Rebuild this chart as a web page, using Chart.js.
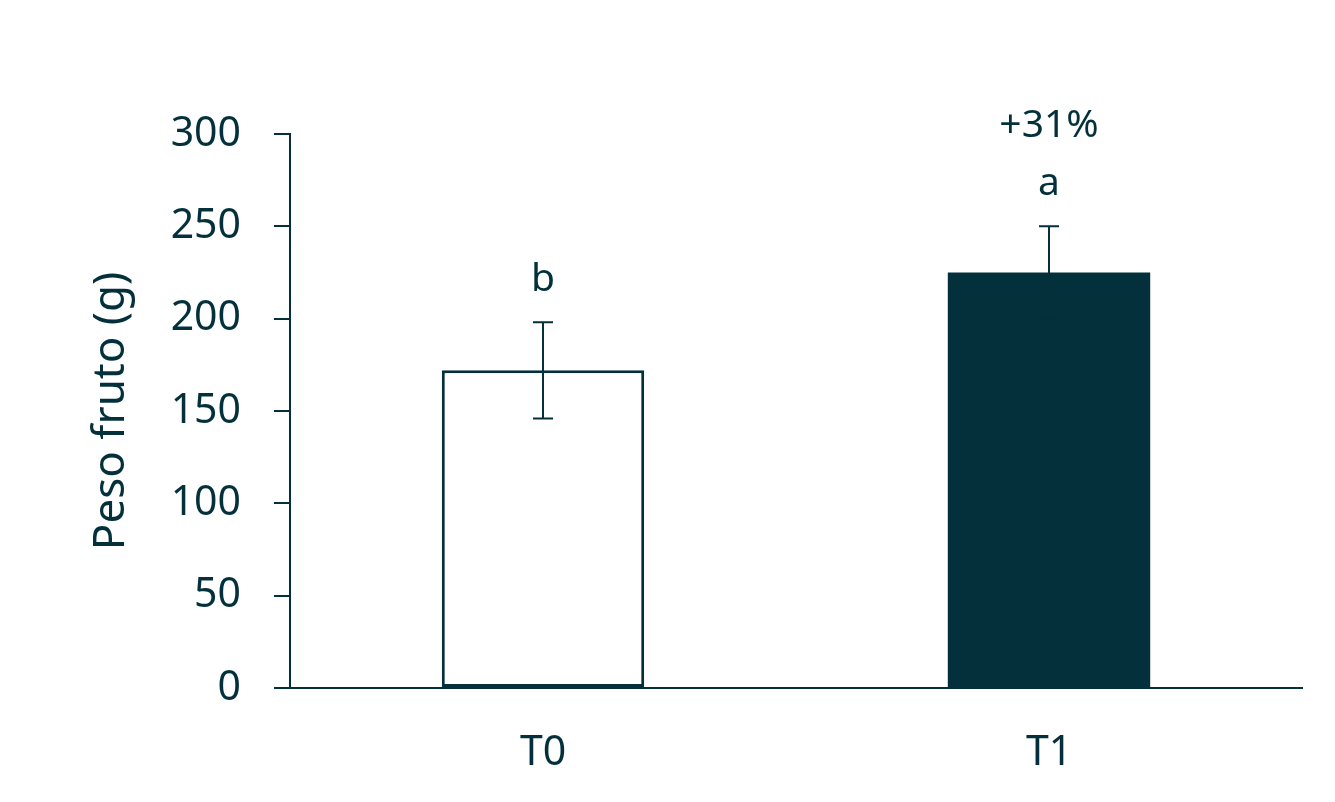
<!DOCTYPE html>
<html>
<head>
<meta charset="utf-8">
<script src="https://cdn.jsdelivr.net/npm/chart.js@4/dist/chart.umd.min.js"></script>
<style>
  html, body { margin: 0; padding: 0; background: #fff; }
  #wrap { width: 1335px; height: 802px; }
</style>
</head>
<body>
<div id="wrap"><canvas id="weightChart"></canvas></div>
<script>
const categories = ['T0', 'T1'];
const meanWeight = [172, 225];
const sdWeight = [26, 25];
const letters = ['b', 'a'];
const increase = ['', '+31%'];

const dark = '#03303a';
const fontFamily = '"Noto Sans", "Open Sans", sans-serif';

// error bars and significance letters on top of the bars
const barNotes = {
  id: 'barNotes',
  afterDatasetsDraw(chart) {
    const ctx = chart.ctx;
    const y = chart.scales.y;
    const meta = chart.getDatasetMeta(0);
    ctx.save();
    ctx.strokeStyle = dark;
    ctx.fillStyle = dark;
    ctx.lineWidth = 2;
    meta.data.forEach((bar, i) => {
      const hi = y.getPixelForValue(meanWeight[i] + sdWeight[i]);
      const lo = y.getPixelForValue(meanWeight[i] - sdWeight[i]);
      ctx.beginPath();
      ctx.moveTo(bar.x, hi);
      ctx.lineTo(bar.x, lo);
      ctx.moveTo(bar.x - 10, hi);
      ctx.lineTo(bar.x + 10, hi);
      ctx.moveTo(bar.x - 10, lo);
      ctx.lineTo(bar.x + 10, lo);
      ctx.stroke();

      ctx.font = '39px ' + fontFamily;
      ctx.textAlign = 'center';
      ctx.textBaseline = 'middle';
      ctx.fillText(letters[i], bar.x, hi - 42);
      if (increase[i]) ctx.fillText(increase[i], bar.x, hi - 100);
    });
    ctx.restore();
  }
};

new Chart(document.getElementById('weightChart'), {
  type: 'bar',
  data: {
    labels: categories,
    datasets: [{
      data: meanWeight,
      backgroundColor: ['#ffffff', dark],
      borderColor: dark,
      borderWidth: [3, 0],
      borderSkipped: false,
      barPercentage: 0.4,
      categoryPercentage: 1
    }]
  },
  options: {
    responsive: true,
    maintainAspectRatio: false,
    animation: false,
    layout: { padding: { top: 134, right: 33, left: 0, bottom: 0 } },
    plugins: {
      legend: { display: false },
      tooltip: { enabled: false }
    },
    scales: {
      x: {
        grid: { display: false, drawTicks: false },
        border: { display: true, color: dark, width: 2 },
        ticks: { color: dark, font: { family: fontFamily, size: 41 }, padding: 41 },
        afterFit(scale) { scale.height = 114; }
      },
      y: {
        min: 0,
        max: 300,
        grid: { display: true, drawOnChartArea: false, drawTicks: true, tickLength: 16, color: dark, lineWidth: 2 },
        border: { display: true, color: dark, width: 2 },
        ticks: { stepSize: 50, color: dark, font: { family: fontFamily, size: 41 }, padding: 33 },
        title: {
          display: true,
          text: 'Peso fruto (g)',
          color: dark,
          font: { family: fontFamily, size: 44 },
          padding: { top: 85, bottom: 0 }
        },
        afterFit(scale) { scale.width = 290; }
      }
    }
  },
  plugins: [barNotes]
});
</script>
</body>
</html>
